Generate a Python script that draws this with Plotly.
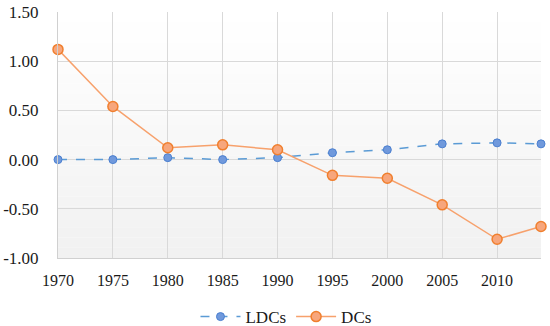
import plotly.graph_objects as go

years = [1970, 1975, 1980, 1985, 1990, 1995, 2000, 2005, 2010, 2014]
ldcs = [0.00, 0.00, 0.02, 0.00, 0.02, 0.07, 0.10, 0.16, 0.17, 0.16]
dcs = [1.12, 0.54, 0.12, 0.15, 0.10, -0.16, -0.19, -0.46, -0.81, -0.68]
y_ticks = [1.5, 1.0, 0.5, 0.0, -0.5, -1.0]
y_labels = ["1.50", "1.00", "0.50", "0.00", "-0.50", "-1.00"]
x_ticks = [1970, 1975, 1980, 1985, 1990, 1995, 2000, 2005, 2010]

font_family = "Liberation Serif, DejaVu Serif, serif"

fig = go.Figure()
fig.add_trace(go.Scatter(
    x=years, y=ldcs, name="LDCs", mode="lines+markers", cliponaxis=False,
    line=dict(color="#5b9bd5", width=1.5, dash="dash"),
    marker=dict(size=8, color="#7099dc", line=dict(color="#4a7fd0", width=1)),
))
fig.add_trace(go.Scatter(
    x=years, y=dcs, name="DCs", mode="lines+markers", cliponaxis=False,
    line=dict(color="#f7a16c", width=1.5),
    marker=dict(size=10, color="#f7a67c", line=dict(color="#f07f2e", width=1.5)),
))

# vertical gradient background (white at top to light grey at bottom)
n = 24
shapes = []
for i in range(n):
    t = i / (n - 1)
    g = int(round(255 - t * 14))
    shapes.append(dict(
        type="rect", xref="x domain", yref="y domain",
        x0=0, x1=1, y0=1 - (i + 1) / n, y1=1 - i / n,
        fillcolor=f"rgb({g},{g},{g})", line=dict(width=0), layer="below",
    ))

fig.update_layout(
    width=550, height=326,
    margin=dict(l=58, r=9, t=12, b=68, autoexpand=False),
    paper_bgcolor="white", plot_bgcolor="white",
    font=dict(family=font_family, size=17, color="#1a1a1a"),
    shapes=shapes,
    showlegend=True,
    legend=dict(orientation="h", x=0.472, xanchor="center", y=-0.24, yanchor="middle",
                font=dict(size=17), itemwidth=40, traceorder="normal"),
    xaxis=dict(range=[1970, 2014], tickvals=x_ticks, ticktext=[str(v) for v in x_ticks],
               showgrid=True, gridcolor="#d9d9d9", gridwidth=1,
               showline=True, linecolor="#d0d0d0", linewidth=1,
               zeroline=False, ticks="", ticklen=0, ticklabelstandoff=8,
               tickfont=dict(size=16)),
    yaxis=dict(range=[-1.0, 1.5], tickvals=y_ticks, ticktext=y_labels,
               showgrid=True, gridcolor="#d9d9d9", gridwidth=1,
               showline=True, linecolor="#d0d0d0", linewidth=1,
               zeroline=False, ticks="", ticklen=0, ticklabelstandoff=15),
)

# remove the default page margin so the figure fills the window exactly
fig.write_html("out.html", post_script="document.body.style.margin='0';",
               config={"displayModeBar": False})
